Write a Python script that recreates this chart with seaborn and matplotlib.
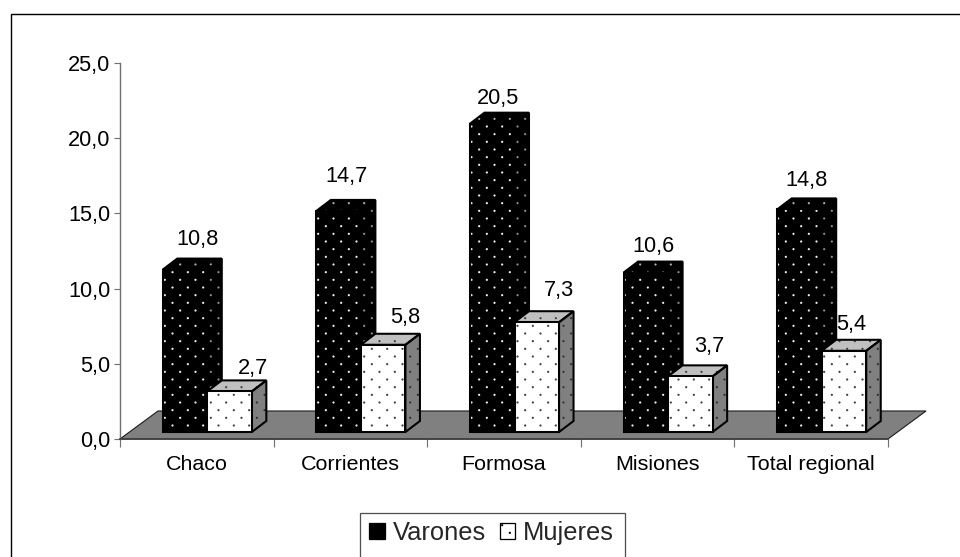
import matplotlib
matplotlib.use("Agg")
import matplotlib.hatch as mhatch
import matplotlib.pyplot as plt
import matplotlib.transforms as mtrans
from matplotlib.lines import Line2D
from matplotlib.patches import Polygon, Rectangle
from matplotlib.path import Path
import pandas as pd
import seaborn as sns

categories = ["Chaco", "Corrientes", "Formosa", "Misiones", "Total regional"]
varones = [10.8, 14.7, 20.5, 10.6, 14.8]
mujeres = [2.7, 5.8, 7.3, 3.7, 5.4]
series_names = ["Varones", "Mujeres"]
value_labels = {"Varones": ["10,8", "14,7", "20,5", "10,6", "14,8"],
                "Mujeres": ["2,7", "5,8", "7,3", "3,7", "5,4"]}
# label placement, in pixels from the bar's front centre and back top edge
label_dx = {"Varones": [13, 8, 6, 8, 7], "Mujeres": [23, 22, 22, 19, 7]}
label_dy = {"Varones": [18.6, 23, 13.7, 14.6, 18.4], "Mujeres": [11.4, 15.8, 21.2, 18.4, 14.8]}

DPI = 92
W, H = 960, 557


class SparseDots(mhatch.HatchPatternBase):
    """Staggered small dots: 6 columns, 12 rows per hatch tile."""
    COLS, ROWS, RADIUS = 6, 12, 0.012

    def __init__(self, hatch, density):
        self.on = hatch.count(".") > 0
        self.circle = Path.unit_circle()
        self.num_vertices = len(self.circle.vertices) * self.COLS * self.ROWS if self.on else 0

    def set_vertices_and_codes(self, vertices, codes):
        n = len(self.circle.vertices)
        i = 0
        for row in range(self.ROWS):
            shift = 0.25 if row % 2 == 0 else 0.75
            for col in range(self.COLS):
                c = ((col + shift) / self.COLS, (row + 0.5) / self.ROWS)
                vertices[i:i + n] = self.circle.vertices * self.RADIUS + c
                codes[i:i + n] = self.circle.codes
                i += n


mhatch._hatch_types[:] = [SparseDots]

sns.set_theme(style="white")
plt.rcParams["font.family"] = ["Liberation Sans", "DejaVu Sans"]
plt.rcParams["hatch.linewidth"] = 0.0

df = pd.DataFrame({
    "region": categories * 2,
    "serie": [series_names[0]] * 5 + [series_names[1]] * 5,
    "valor": varones + mujeres,
})

fig = plt.figure(figsize=(W / DPI, H / DPI), dpi=DPI, facecolor="white")
ax = fig.add_axes([120 / W, 1 - 439 / H, 768 / W, 376 / H])
ax.patch.set_alpha(0)

sns.barplot(data=df, x="region", y="valor", hue="serie", hue_order=series_names,
            palette=["black", "white"], width=0.58, gap=0, legend=False, ax=ax,
            errorbar=None, zorder=3)
ax.set_xlim(-0.5, 4.5)
ax.set_ylim(0, 25)
ax.set_yticks(range(0, 30, 5))
ax.set_yticklabels([f"{v},0" for v in range(0, 30, 5)], fontsize=17, color="black")
ax.set_xlabel("")
ax.set_ylabel("")
ax.tick_params(axis="y", length=5, width=0.9, color="#707070", left=True, pad=2.5)
ax.set_xticks([i - 0.5 for i in range(6)])
ax.set_xticklabels([])
ax.set_xticks(range(5), minor=True)
ax.set_xticklabels(categories, minor=True, fontsize=16.8, color="black")
ax.tick_params(axis="x", which="major", length=6, width=0.9, color="#707070", bottom=True)
ax.tick_params(axis="x", which="minor", length=0, pad=12.5)
for s in ("top", "right"):
    ax.spines[s].set_visible(False)
ax.spines["left"].set_color("#707070")
ax.spines["left"].set_linewidth(1.1)
ax.spines["bottom"].set_color("#404040")
ax.spines["bottom"].set_linewidth(1.3)

# floor of the pseudo 3-D chart, in pixel offsets from the axis line
x0, y0 = ax.transData.transform((-0.5, 0))
x1, _ = ax.transData.transform((4.5, 0))
FLOOR_DX, FLOOR_DY = 38, 28
identity = mtrans.IdentityTransform()
ax.add_patch(Polygon([(x0, y0), (x1, y0), (x1 + FLOOR_DX, y0 + FLOOR_DY), (x0 + FLOOR_DX, y0 + FLOOR_DY)],
                     closed=True, facecolor="#808080", edgecolor="#202020", linewidth=0.9,
                     transform=identity, clip_on=False, zorder=1))

# front faces shifted to mid-depth, plus side and top faces
SHIFT_X, SHIFT_Y = 10.5, 7
DX, DY = 14.5, 11
bars = [b for b in ax.patches if isinstance(b, Rectangle)][:10]
styles = {
    "Varones": dict(front="black", side="black", top="black", dots="#f0f0f0", side_dots="#909090", top_dots="#b0b0b0"),
    "Mujeres": dict(front="white", side="#808080", top="#c0c0c0", dots="#404040", side_dots="#303030", top_dots="#404040"),
}


def face(pts, fc, dots, z):
    ax.add_patch(Polygon(pts, closed=True, facecolor=fc, edgecolor=dots, linewidth=0, hatch=".",
                         transform=identity, clip_on=False, zorder=z))
    ax.add_patch(Polygon(pts, closed=True, facecolor="none", edgecolor="black", linewidth=1.6,
                         joinstyle="miter", transform=identity, clip_on=False, zorder=z + 0.1))


for k, name in enumerate(series_names):
    st = styles[name]
    group = sorted([b for b in bars if b.get_facecolor()[:3] == matplotlib.colors.to_rgb(st["front"])],
                   key=lambda b: b.get_x())
    z = 4 + 2 * k
    for b, lab, ldx, ldy in zip(group, value_labels[name], label_dx[name], label_dy[name]):
        (l, bot) = ax.transData.transform((b.get_x(), 0))
        (r, top) = ax.transData.transform((b.get_x() + b.get_width(), b.get_height()))
        l += SHIFT_X; r += SHIFT_X; bot += SHIFT_Y; top += SHIFT_Y
        b.set_visible(False)
        face([(r, bot), (r + DX, bot + DY), (r + DX, top + DY), (r, top)], st["side"], st["side_dots"], z)
        face([(l, top), (r, top), (r + DX, top + DY), (l + DX, top + DY)], st["top"], st["top_dots"], z)
        face([(l, bot), (r, bot), (r, top), (l, top)], st["front"], st["dots"], z + 0.5)
        ax.annotate(lab, xy=((l + r) / 2 + ldx, top + DY + ldy), xycoords=identity,
                    ha="center", va="center", fontsize=17, color="black", zorder=20,
                    annotation_clip=False)

# chart frame: left and top edges only, the rest falls outside the picture
fig.add_artist(Line2D([10.5 / W, 10.5 / W, 1.0], [0.0, 1 - 14 / H, 1 - 14 / H],
                      transform=fig.transFigure, color="black", linewidth=1.1,
                      solid_joinstyle="miter"))
# legend box runs past the bottom edge of the picture
fig.add_artist(Line2D([359.5 / W, 359.5 / W, 624.5 / W, 624.5 / W],
                      [0.0, 1 - 512.5 / H, 1 - 512.5 / H, 0.0],
                      transform=fig.transFigure, color="#505050", linewidth=1,
                      solid_joinstyle="miter"))
handles = [Rectangle((0, 0), 1, 1, facecolor="black", edgecolor="black", linewidth=1),
           Rectangle((0, 0), 1, 1, facecolor="white", edgecolor="black", linewidth=1, hatch=".")]
fig.legend(handles, series_names, loc="upper center", bbox_to_anchor=(491.5 / W, 1 - 512 / H),
           ncol=2, fontsize=20, frameon=False, borderpad=0.35, handlelength=0.62,
           handleheight=0.62, handletextpad=0.3, columnspacing=0.55, borderaxespad=0)

fig.savefig("out.png", dpi=DPI)
